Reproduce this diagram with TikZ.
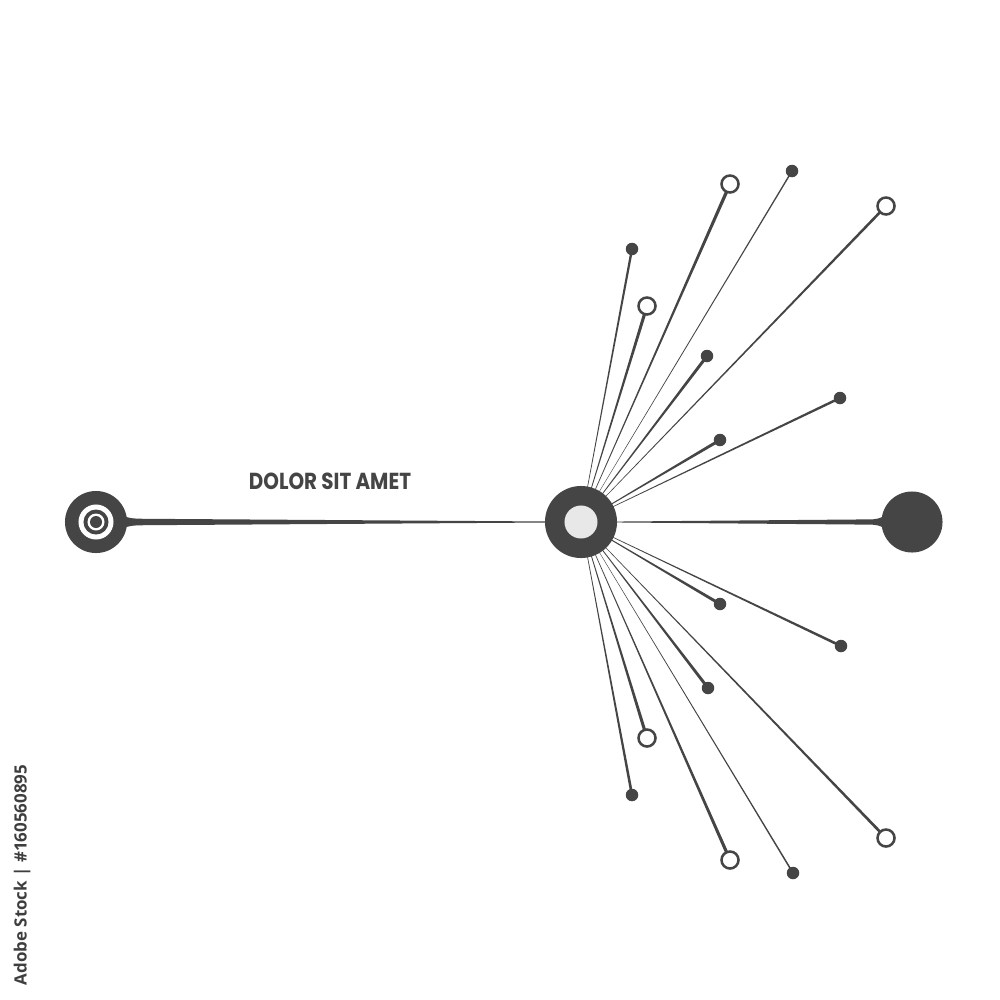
\documentclass[tikz,border=0pt]{standalone}
\usepackage{fontspec}
\usetikzlibrary{calc}
\newfontfamily\titlefont{Poppins}
\newfontfamily\wmfont{Open Sans}
\definecolor{ink}{HTML}{454545}
\definecolor{core}{HTML}{E8E8E8}
\pgfdeclarelayer{back}
\pgfdeclarelayer{bg}
\pgfsetlayers{back,bg,main}
\tikzset{
  hub/.style={circle,fill=ink,inner sep=0pt,minimum size=0.72cm},
  hubcore/.style={circle,fill=core,inner sep=0pt,minimum size=0.33cm},
  endnode/.style={circle,fill=ink,inner sep=0pt,minimum size=0.61cm},
  dotend/.style={circle,fill=ink,inner sep=0pt,minimum size=0.125cm},
  ringend/.style={circle,draw=ink,line width=0.72pt,fill=white,inner sep=0pt,minimum size=0.17cm},
  ringw/.style={circle,fill=white,inner sep=0pt},
  ringd/.style={circle,fill=ink,inner sep=0pt},
  title/.style={font=\titlefont\bfseries,text=ink,inner sep=0pt},
  idtext/.style={font=\wmfont\bfseries,text=ink!90!black,inner sep=0pt,rotate=90}
}
\newcommand\tray[4]{\fill[ink] ($(#1)!#3!90:(#2)$) -- ($(#2)!#4!-90:(#1)$) -- ($(#2)!#4!90:(#1)$) -- ($(#1)!#3!-90:(#2)$) -- cycle;}
\begin{document}
\begin{tikzpicture}[x=0.01cm,y=-0.01cm]
\begin{pgfonlayer}{back}
\useasboundingbox[fill=white] (0,0) rectangle (1000,1000);
\end{pgfonlayer}
% main nodes
\node[endnode,minimum size=0.62cm] (L) at (96,522) {};
\node[ringw,minimum size=0.35cm] (L1) at (L) {};
\node[ringd,minimum size=0.25cm] (L2) at (L) {};
\node[ringw,minimum size=0.17cm] (L3) at (L) {};
\node[ringd,minimum size=0.12cm] (L4) at (L) {};
\node[hub] (H) at (581,522) {};
\node[hubcore] (Hc) at (H) {};
\node[endnode] (R) at (912,522) {};
% endpoints (top)
\node[dotend]  (t1) at (632,249) {};
\node[ringend] (t2) at (730,184) {};
\node[dotend]  (t3) at (792,171) {};
\node[ringend] (t4) at (886,206) {};
\node[ringend] (t5) at (647,306) {};
\node[dotend]  (t6) at (707,356) {};
\node[dotend]  (t7) at (720,440) {};
\node[dotend]  (t8) at (840,398) {};
% endpoints (bottom)
\node[dotend]  (b1) at (632,795) {};
\node[ringend] (b2) at (730,860) {};
\node[dotend]  (b3) at (793,873) {};
\node[ringend] (b4) at (886,838) {};
\node[ringend] (b5) at (647,738) {};
\node[dotend]  (b6) at (708,688) {};
\node[dotend]  (b7) at (720,604) {};
\node[dotend]  (b8) at (841,646) {};
% texts
\node[title] (T) at (330,481) {\resizebox{1.62cm}{0.165cm}{DOLOR SIT AMET}};
\node[idtext] (ID) at (22,875) {\resizebox{2.2cm}{!}{Adobe Stock | \#160560895}};
\begin{pgfonlayer}{bg}
% left tapered line
\fill[ink] ($(L)+(20,-9)$) .. controls ($(L)+(34,-3.4)$) .. ($(L)+(50,-3.2)$) -- ($(H)+(-30,-0.5)$) -- ($(H)+(-30,0.5)$) -- ($(L)+(50,3.2)$) .. controls ($(L)+(34,3.4)$) .. ($(L)+(20,9)$) -- cycle;
% right tapered line
\fill[ink] ($(H)+(30,-0.4)$) -- ($(R)+(-45,-2.6)$) .. controls ($(R)+(-34,-2.7)$) .. ($(R)+(-22,-9)$) -- ($(R)+(-22,9)$) .. controls ($(R)+(-34,2.7)$) .. ($(R)+(-45,2.6)$) -- ($(H)+(30,0.4)$) -- cycle;
% rays
\tray{H}{t1}{0.05pt}{0.34pt}
\tray{H}{t2}{0.05pt}{0.48pt}
\tray{H}{t3}{0.04pt}{0.2pt}
\tray{H}{t4}{0.05pt}{0.38pt}
\tray{H}{t5}{0.05pt}{0.46pt}
\tray{H}{t6}{0.05pt}{0.44pt}
\tray{H}{t7}{0.05pt}{0.44pt}
\tray{H}{t8}{0.05pt}{0.36pt}
\tray{H}{b1}{0.05pt}{0.38pt}
\tray{H}{b2}{0.05pt}{0.46pt}
\tray{H}{b3}{0.04pt}{0.22pt}
\tray{H}{b4}{0.05pt}{0.4pt}
\tray{H}{b5}{0.05pt}{0.46pt}
\tray{H}{b6}{0.05pt}{0.44pt}
\tray{H}{b7}{0.05pt}{0.44pt}
\tray{H}{b8}{0.05pt}{0.38pt}
\end{pgfonlayer}
\end{tikzpicture}
\end{document}
